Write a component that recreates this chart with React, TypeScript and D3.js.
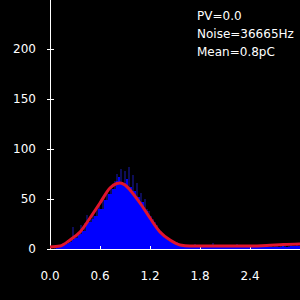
import React, { useEffect, useRef } from "react"
import * as d3 from "d3"

// histogram counts, bin width 0.024 pC starting at 0
const binWidth = 0.024
const counts = [
  0, 0, 1, 2, 2, 3, 4, 5, 6, 7,
  9, 22, 11, 14, 15, 24, 18, 26, 34, 27,
  30, 36, 33, 42, 45, 40, 52, 49, 58, 55,
  63, 60, 68, 75, 72, 80, 66, 78, 70, 82,
  62, 74, 58, 66, 52, 56, 47, 50, 40, 38,
  33, 30, 27, 24, 20, 18, 15, 13, 11, 10,
  8, 7, 6, 7, 5, 4, 5, 3, 4, 3,
  3, 2, 5, 2, 3, 2, 4, 2, 2, 3,
  2, 6, 2, 3, 2, 2, 4, 2, 3, 2,
  2, 3, 2, 5, 2, 2, 3, 2, 2, 4,
  2, 3, 2, 2, 3, 2, 4, 2, 3, 2,
  3, 2, 4, 3, 2, 3, 5, 3, 2, 3,
  4, 3, 3, 4, 3,
]

// fitted curve
const fitX = [0, 0.12, 0.24, 0.36, 0.48, 0.6, 0.72, 0.8, 0.84, 0.9, 0.96, 1.08, 1.2, 1.32, 1.44, 1.56, 1.68, 1.8, 2.1, 2.4, 2.6, 2.8, 3.0]
const fitY = [2, 3, 9, 17, 31, 46, 61, 65.5, 66, 64, 59, 46, 31, 17, 9, 4, 3, 3, 3, 3, 3.5, 4.5, 5]

const xTicks = [0, 0.6, 1.2, 1.8, 2.4]
const yTicks = [0, 50, 100, 150, 200]
const infoLines = ["PV=0.0", "Noise=36665Hz", "Mean=0.8pC"]

export default function App() {
  const ref = useRef<SVGSVGElement>(null)

  useEffect(() => {
    const svg = d3.select(ref.current)
    svg.selectAll("*").remove()

    const x = d3.scaleLinear().domain([0, 3]).range([50, 300])
    const y = d3.scaleLinear().domain([0, 249]).range([249, 0])

    svg.append("rect").attr("width", 300).attr("height", 300).attr("fill", "#000")

    // histogram: bright body, darker spikes above the neighbours
    const bars = svg.append("g")
    counts.forEach((v, i) => {
      const lo = Math.min(v, counts[i - 1] ?? v, counts[i + 1] ?? v)
      const x0 = x(i * binWidth)
      const w = x((i + 1) * binWidth) - x0
      bars.append("rect")
        .attr("x", x0).attr("width", w)
        .attr("y", y(lo)).attr("height", y(0) - y(lo))
        .attr("fill", "#0000ff")
      if (v > lo) {
        bars.append("rect")
          .attr("x", x0 + w / 4).attr("width", w / 2)
          .attr("y", y(v)).attr("height", y(lo) - y(v))
          .attr("fill", "#1a1ab0")
      }
    })

    // axes
    svg.append("line").attr("x1", 50.5).attr("x2", 50.5).attr("y1", 0).attr("y2", 249)
      .attr("stroke", "#fff")
    svg.append("line").attr("x1", 50).attr("x2", 300).attr("y1", 249.5).attr("y2", 249.5)
      .attr("stroke", "#fff")

    svg.append("g").selectAll("line").data(yTicks).enter().append("line")
      .attr("x1", 47).attr("x2", 54)
      .attr("y1", d => Math.round(y(d)) + 0.5).attr("y2", d => Math.round(y(d)) + 0.5)
      .attr("stroke", "#fff")
    svg.append("g").selectAll("text").data(yTicks).enter().append("text")
      .attr("x", 36).attr("y", d => y(d) + 4)
      .attr("text-anchor", "end")
      .attr("fill", "#fff").attr("font-size", 12).attr("font-family", "DejaVu Sans")
      .text(d => d)

    svg.append("g").selectAll("line").data(xTicks).enter().append("line")
      .attr("x1", d => Math.round(x(d)) + 0.5).attr("x2", d => Math.round(x(d)) + 0.5)
      .attr("y1", 246).attr("y2", 250)
      .attr("stroke", "#fff")
    svg.append("g").selectAll("text").data(xTicks).enter().append("text")
      .attr("x", d => x(d)).attr("y", 280)
      .attr("text-anchor", "middle")
      .attr("fill", "#fff").attr("font-size", 12).attr("font-family", "DejaVu Sans")
      .text(d => d.toFixed(1))

    // fit curve
    const line = d3.line<number>()
      .x((d, i) => x(fitX[i]))
      .y(d => y(d))
      .curve(d3.curveMonotoneX)
    svg.append("path").attr("d", line(fitY))
      .attr("fill", "none").attr("stroke", "#e0142c").attr("stroke-width", 3)

    svg.append("g").selectAll("text").data(infoLines).enter().append("text")
      .attr("x", 197).attr("y", (d, i) => 20 + i * 18)
      .attr("fill", "#fff").attr("font-size", 12).attr("font-family", "DejaVu Sans")
      .text(d => d)
  }, [])

  return (
    <svg ref={ref} width={300} height={300}
      style={{ position: "fixed", left: 0, top: 0, display: "block" }} />
  )
}
